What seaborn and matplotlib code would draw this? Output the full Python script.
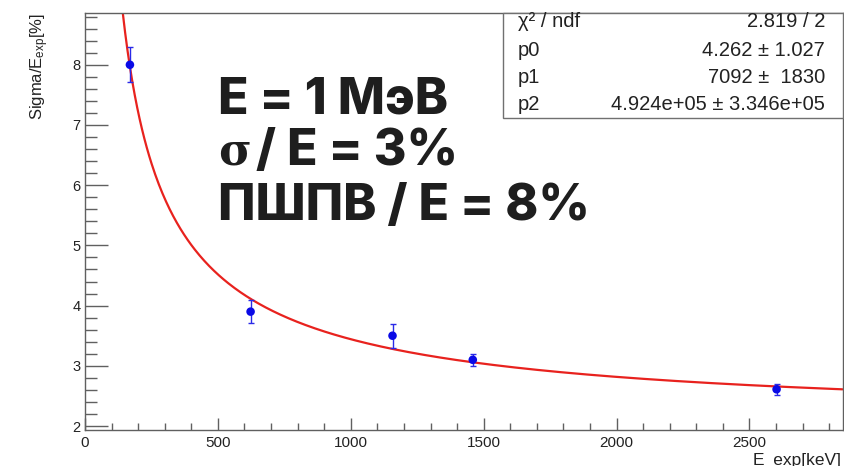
import numpy as np
import pandas as pd
import matplotlib
matplotlib.use("Agg")
import matplotlib.pyplot as plt
from matplotlib.patches import Rectangle
from matplotlib.ticker import MultipleLocator
import seaborn as sns

# ---- data ----
energy_kev = [169, 623, 1157, 1459, 2602]
sigma_pct = [8.00, 3.90, 3.50, 3.10, 2.61]
sigma_err = [0.29, 0.19, 0.20, 0.10, 0.09]

# fit parameters shown in the stats box: f(E) = sqrt(p0 + p1/E + p2/E^2)
p0, p1, p2 = 4.262, 7092.0, 4.924e05
stat_names = ["χ² / ndf", "p0", "p1", "p2"]
stat_values = ["2.819 / 2", "4.262 ± 1.027", "7092 ±  1830", "4.924e+05 ± 3.346e+05"]

x_ticks = [0, 500, 1000, 1500, 2000, 2500]
y_ticks = [2, 3, 4, 5, 6, 7, 8]

overlay_line1 = "E = 1 МэВ"
overlay_sigma = "σ"
overlay_line2_rest = "/ E = 3%"
overlay_line3 = "ПШПВ / E = 8%"

sns.set_style("ticks")
plt.rcParams["font.family"] = ["Liberation Sans", "DejaVu Sans"]
plt.rcParams["mathtext.fontset"] = "custom"
plt.rcParams["mathtext.rm"] = "Liberation Sans"
plt.rcParams["mathtext.it"] = "Liberation Sans:italic"

W, H = 844, 466
fig = plt.figure(figsize=(W / 100, H / 100), dpi=100)
L, R, T, B = 85, 842.5, 13, 430
ax = fig.add_axes([L / W, 1 - B / H, (R - L) / W, (B - T) / H])

# fit curve
e_fit = np.linspace(142, 2850, 600)
fit_df = pd.DataFrame({"E": e_fit, "S": np.sqrt(p0 + p1 / e_fit + p2 / e_fit ** 2)})
sns.lineplot(data=fit_df, x="E", y="S", color="#e8221e", lw=1.6, ax=ax, zorder=2)

pts = pd.DataFrame({"E": energy_kev, "S": sigma_pct, "err": sigma_err})
ax.errorbar(pts["E"], pts["S"], yerr=pts["err"], fmt="none", ecolor="#2a2ae8",
            elinewidth=1.0, capsize=2.2, capthick=1.0, zorder=3)
sns.scatterplot(data=pts, x="E", y="S", color="#0a0ae6", s=38, edgecolor="none",
                ax=ax, zorder=4)

ax.set_xlim(0, 2850)
ax.set_ylim(1.934, 8.86)
ax.set_xticks(x_ticks)
ax.set_yticks(y_ticks)
ax.xaxis.set_minor_locator(MultipleLocator(100))
ax.yaxis.set_minor_locator(MultipleLocator(0.2))
ax.set_xlabel("")
ax.set_ylabel("")
frame = "#606060"
for s in ax.spines.values():
    s.set_visible(True)
    s.set_color(frame)
    s.set_linewidth(1.0)
ax.tick_params(axis="y", which="major", direction="in", length=16.5, width=1,
               color=frame, pad=3, labelsize=10.5, labelcolor="#222222")
ax.tick_params(axis="y", which="minor", direction="in", length=8.6, width=1, color=frame)
ax.tick_params(axis="x", which="major", direction="in", length=8.6, width=1,
               color=frame, pad=4, labelsize=11, labelcolor="#222222")
ax.tick_params(axis="x", which="minor", direction="in", length=5, width=1, color=frame)
ax.tick_params(right=False, top=False, which="both")

# axis titles (ROOT style)
fig.text(40 / W, 1 - 13 / H, r"Sigma/E$_{\mathrm{exp}}$[%]", rotation=90,
         ha="center", va="top", fontsize=12, color="#222222")
fig.text(842 / W, 1 - 460 / H, "E_exp[keV]", ha="right", va="center",
         fontsize=12.5, color="#222222")

# stats box
bx0, by0, bx1, by1 = 503, 13, 843, 118
fig.patches.append(Rectangle((bx0 / W, 1 - by1 / H), (bx1 - bx0) / W, (by1 - by0) / H,
                             transform=fig.transFigure, facecolor="white",
                             edgecolor="#707070", lw=1.0, zorder=5))
baselines = [27, 56, 83, 110]
for name, val, yb in zip(stat_names, stat_values, baselines):
    fig.text(518 / W, 1 - yb / H, name, ha="left", va="baseline", fontsize=14.5,
             color="#222222", zorder=6)
    fig.text(825 / W, 1 - yb / H, val, ha="right", va="baseline", fontsize=14.5,
             color="#222222", zorder=6)

# overlay text
big = dict(va="baseline", fontweight="heavy", color="#1e1e1e", zorder=7)
fig.text(218 / W, 1 - 113 / H, overlay_line1, ha="left", fontsize=36,
         family=["Inter", "DejaVu Sans"], **big)
fig.text(218 / W, 1 - 165 / H, overlay_sigma, ha="left", fontsize=32,
         family=["DejaVu Serif"], **big)
fig.text(256 / W, 1 - 165 / H, overlay_line2_rest, ha="left", fontsize=36,
         family=["Inter", "DejaVu Sans"], **big)
fig.text(218 / W, 1 - 220 / H, overlay_line3, ha="left", fontsize=36,
         family=["Inter", "DejaVu Sans"], **big)

fig.savefig("out.png", dpi=100)
